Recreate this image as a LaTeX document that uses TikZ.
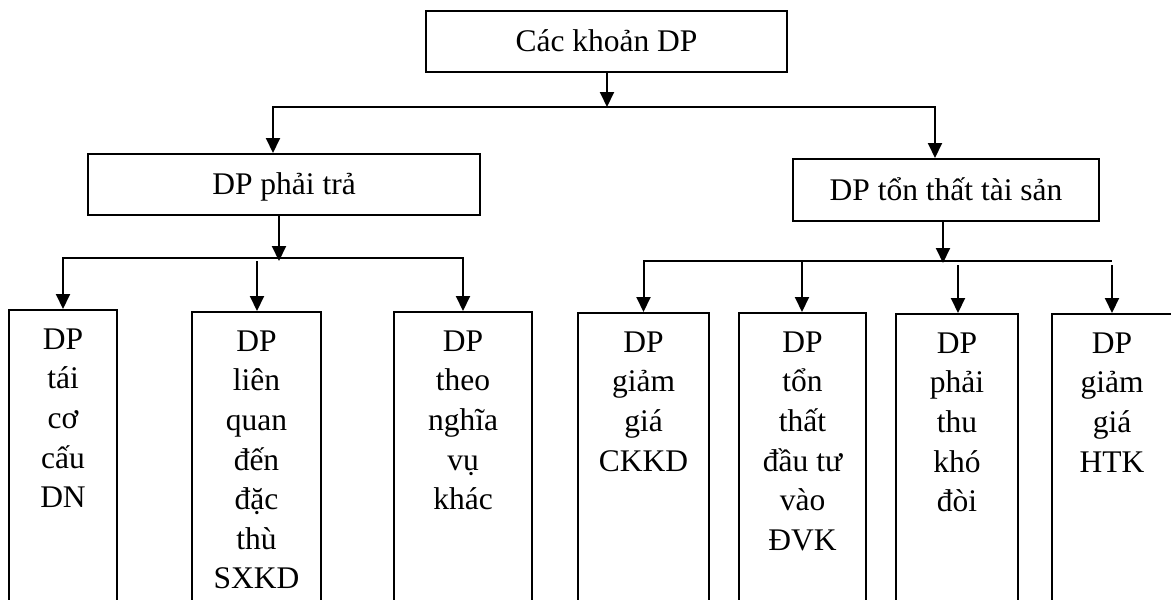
\documentclass[tikz,border=0pt]{standalone}
\usepackage{fontspec}
\setmainfont{Liberation Serif}
\usetikzlibrary{arrows.meta}
\begin{document}
\begin{tikzpicture}[x=1pt,y=-1pt,
  link/.style={line width=2pt},
  arr/.style={line width=2pt,-{Triangle[length=15pt,width=14pt]}},
  headbox/.style={draw,line width=2pt,rectangle,inner sep=0pt,
    font=\fontsize{31.5}{39.6}\selectfont,text height=24pt,text depth=3.4pt},
  leafbox/.style={draw,line width=2pt,rectangle,inner sep=0pt,anchor=north,minimum height=330pt},
  leaftext/.style={anchor=north,inner sep=0pt,align=center,font=\fontsize{31.5}{39.6}\selectfont}]
\useasboundingbox (0,0) rectangle (1171,600);
\clip (0,0) rectangle (1171,600);

% upper levels
\node[headbox,minimum width=361pt,minimum height=61pt] (T) at (606.5,41.5) {Các khoản DP};
\node[headbox,minimum width=392pt,minimum height=61pt] (L) at (284,184.5) {DP phải trả};
\node[headbox,minimum width=306pt,minimum height=62pt] (R) at (946,190) {DP tổn thất tài sản};

% leaf boxes (they run past the lower edge)
\node[leafbox,minimum width=108pt] (b1) at (63,309) {};
\node[leafbox,minimum width=129pt] (b2) at (256.5,311) {};
\node[leafbox,minimum width=138pt] (b3) at (463,311) {};
\node[leafbox,minimum width=131pt] (b4) at (643.5,312) {};
\node[leafbox,minimum width=127pt] (b5) at (802.5,312) {};
\node[leafbox,minimum width=122pt] (b6) at (957,313) {};
\node[leafbox,minimum width=120pt] (b7) at (1112,313) {};

% leaf labels
\node[leaftext] (t1) at ([yshift=-19.5pt]b1.north) {DP\\tái\\cơ\\cấu\\DN};
\node[leaftext] (t2) at ([yshift=-19.5pt]b2.north) {DP\\liên\\quan\\đến\\đặc\\thù\\SXKD};
\node[leaftext] (t3) at ([yshift=-19.5pt]b3.north) {DP\\theo\\nghĩa\\vụ\\khác};
\node[leaftext] (t4) at ([yshift=-19.5pt]b4.north) {DP\\giảm\\giá\\CKKD};
\node[leaftext] (t5) at ([yshift=-19.5pt]b5.north) {DP\\tổn\\thất\\đầu tư\\vào\\ĐVK};
\node[leaftext] (t6) at ([yshift=-19.5pt]b6.north) {DP\\phải\\thu\\khó\\đòi};
\node[leaftext] (t7) at ([yshift=-19.5pt]b7.north) {DP\\giảm\\giá\\HTK};

% first split
\coordinate (j0) at (607,107);
\coordinate (dL) at (273,107);
\coordinate (dR) at (935,107);
\draw[arr] (T.south -| j0) -- (j0);
\draw[arr] (j0) -| (dL |- L.north);
\draw[arr] (j0) -| (dR |- R.north);

% left branch
\coordinate (jL) at (279,261);
\coordinate (bl) at (279,258);
\coordinate (k2) at (257,261);
\draw[arr] (L.south -| jL) -- (jL);
\draw[arr] (bl) -| (b1.north);
\draw[arr] (bl) -| (b3.north);
\draw[arr] (k2) -- (k2 |- b2.north);

% right branch
\coordinate (jR) at (943,263);
\coordinate (br) at (943,261);
\coordinate (br2) at (1112,261);
\coordinate (k5) at (802,261);
\coordinate (k6) at (958,265);
\coordinate (k7) at (1112,265);
\draw[arr] (R.south -| jR) -- (jR);
\draw[arr] (br) -| (b4.north);
\draw[link] (br) -- (br2);
\draw[arr] (k5) -- (k5 |- b5.north);
\draw[arr] (k6) -- (k6 |- b6.north);
\draw[arr] (k7) -- (k7 |- b7.north);
\end{tikzpicture}
\end{document}
